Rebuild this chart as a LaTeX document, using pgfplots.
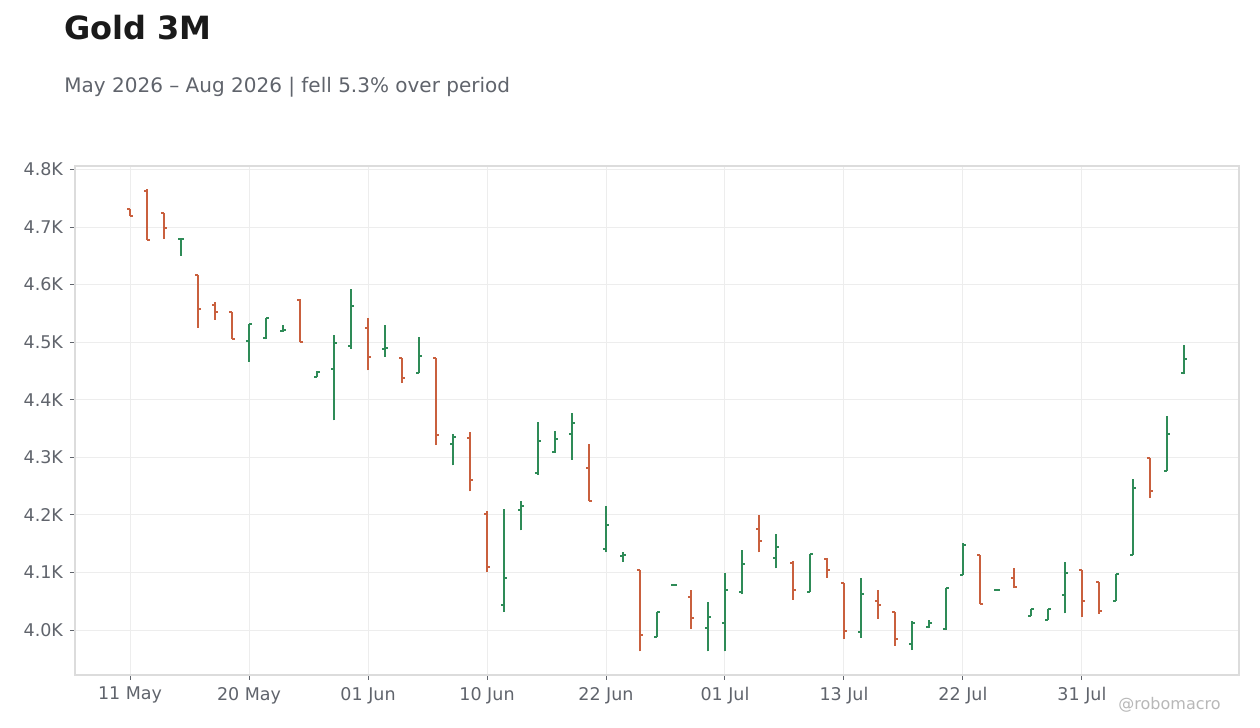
\documentclass[border=0pt]{standalone}
\usepackage{fontspec}
\setmainfont{DejaVu Sans}
\usepackage{pgfplots}
\pgfplotsset{compat=1.18}
\usepackage{pgfplotstable}

\definecolor{upc}{HTML}{2E8B57}
\definecolor{dnc}{HTML}{C9603E}
\definecolor{titlec}{HTML}{1A1A1A}
\definecolor{subc}{HTML}{60646C}
\definecolor{gridc}{HTML}{EDEDED}
\definecolor{spinec}{HTML}{DCDCDC}

% i open high low close -- rising sessions
\pgfplotstableread{
i o h l c
3 4679 4679 4650 4679
7 4502 4532 4466 4532
8 4508 4542 4505 4542
9 4519 4530 4518 4522
11 4440 4450 4440 4448
12 4454 4513 4364 4499
13 4494 4593 4489 4562
15 4489 4530 4475 4490
17 4447 4509 4446 4476
19 4324 4341 4286 4336
22 4043 4211 4031 4091
23 4209 4225 4173 4216
24 4272 4362 4270 4329
25 4310 4346 4308 4331
26 4340 4377 4296 4359
28 4140 4216 4135 4182
29 4128 4136 4119 4130
31 3988 4031 3988 4031
32 4079 4080 4078 4079
34 4003 4049 3963 4023
35 4013 4100 3963 4069
36 4067 4139 4062 4114
38 4126 4167 4107 4145
40 4066 4132 4066 4132
43 3996 4090 3987 4062
46 3975 4015 3965 4013
47 4005 4017 4003 4012
48 4002 4073 4000 4073
49 4096 4151 4096 4147
51 4069 4070 4068 4069
53 4024 4036 4024 4036
54 4018 4036 4017 4036
55 4061 4118 4029 4100
58 4051 4097 4051 4097
59 4130 4262 4130 4246
61 4277 4372 4276 4341
62 4447 4495 4444 4470
}\upbars

% falling sessions
\pgfplotstableread{
i o h l c
0 4731 4731 4719 4719
1 4763 4766 4678 4678
2 4724 4724 4680 4698
4 4616 4616 4525 4557
5 4564 4569 4539 4553
6 4553 4553 4506 4506
10 4574 4575 4500 4500
14 4524 4542 4451 4475
16 4472 4472 4429 4437
18 4473 4473 4321 4338
20 4333 4344 4241 4260
21 4201 4207 4101 4109
27 4281 4323 4225 4225
30 4105 4105 3963 3991
33 4058 4070 4002 4021
37 4176 4200 4135 4155
39 4117 4120 4053 4070
41 4123 4125 4091 4105
42 4082 4082 3985 3998
44 4050 4069 4020 4044
45 4031 4031 3973 3985
50 4130 4130 4046 4046
52 4091 4108 4073 4075
56 4104 4104 4023 4050
57 4084 4084 4028 4034
60 4299 4299 4229 4242
}\dnbars

\pgfplotsset{
  hl/.style={draw=none, mark=none, forget plot,
    error bars/.cd, y dir=plus, y explicit, error mark=none,
    error bar style={draw=#1, line width=1pt, line cap=butt}},
  otick/.style={draw=none, mark=none, forget plot,
    error bars/.cd, x dir=minus, x fixed=0.2, error mark=none,
    error bar style={draw=#1, line width=1pt}},
  ctick/.style={draw=none, mark=none, forget plot,
    error bars/.cd, x dir=plus, x fixed=0.2, error mark=none,
    error bar style={draw=#1, line width=1pt}},
}

\begin{document}
\begin{tikzpicture}
\path[use as bounding box, fill=white] (0,0) rectangle (630pt,364pt);

\node[anchor=base west, font=\bfseries\fontsize{16}{19}\selectfont, text=titlec, inner sep=0]
  at (32pt,344pt) {Gold 3M};
\node[anchor=base west, font=\fontsize{10}{12}\selectfont, text=subc, inner sep=0]
  at (32pt,317.8pt) {May 2026 – Aug 2026 | fell 5.3\% over period};

\begin{axis}[
  at={(37.5pt,26.5pt)}, anchor=south west,
  scale only axis, width=582pt, height=254.5pt,
  xmin=-3.24, xmax=65.24,
  ymin=3922, ymax=4806,
  xtick={0,7,14,21,28,35,42,49,56},
  xticklabels={11 May,20 May,01 Jun,10 Jun,22 Jun,01 Jul,13 Jul,22 Jul,31 Jul},
  ytick={4000,4100,4200,4300,4400,4500,4600,4700,4800},
  yticklabels={4.0K,4.1K,4.2K,4.3K,4.4K,4.5K,4.6K,4.7K,4.8K},
  /pgf/number format/assume math mode=true,
  tick label style={font=\fontsize{8.75}{10}\selectfont, text=subc},
  tick pos=left, tick align=outside, major tick length=2.5pt,
  tick style={draw=subc, line width=0.5pt},
  grid=major, major grid style={draw=gridc, line width=0.5pt},
  axis line style={draw=spinec, line width=0.6pt},
  clip=false,
]
\addplot[hl=upc] table[x=i, y=l, y error expr=\thisrow{h}-\thisrow{l}] {\upbars};
\addplot[otick=upc] table[x=i, y=o] {\upbars};
\addplot[ctick=upc] table[x=i, y=c] {\upbars};
\addplot[hl=dnc] table[x=i, y=l, y error expr=\thisrow{h}-\thisrow{l}] {\dnbars};
\addplot[otick=dnc] table[x=i, y=o] {\dnbars};
\addplot[ctick=dnc] table[x=i, y=c] {\dnbars};
\end{axis}

\node[anchor=base east, font=\fontsize{8}{10}\selectfont, text=black!28, inner sep=0]
  at (610.5pt,9pt) {@robomacro};
\end{tikzpicture}
\end{document}
